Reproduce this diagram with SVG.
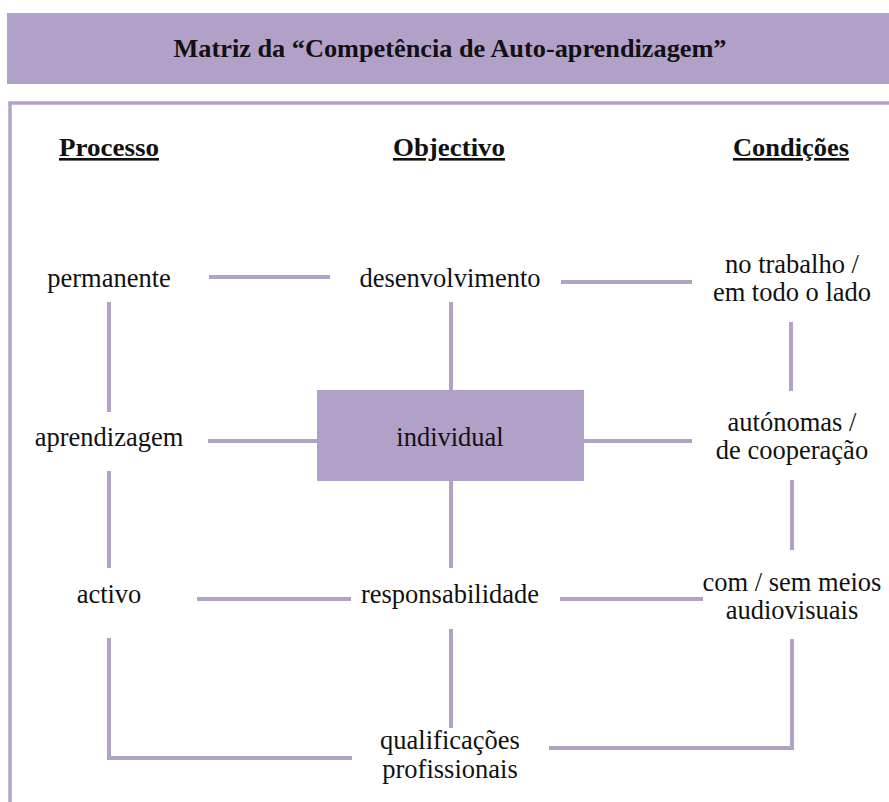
<svg xmlns="http://www.w3.org/2000/svg" width="889" height="802" viewBox="0 0 889 802">
<style>
.lbl{font-family:"Liberation Serif","Times New Roman",serif;font-size:26.5px;fill:#111;text-anchor:middle}
.hdr{font-family:"Liberation Serif","Times New Roman",serif;font-size:26px;font-weight:bold;fill:#111;text-anchor:middle;text-decoration:underline}
.ttl{font-family:"Liberation Serif","Times New Roman",serif;font-size:25px;font-weight:bold;fill:#111;text-anchor:middle}
.ln{stroke:#b3a2c8;stroke-width:4;fill:none}
</style>
<rect x="0" y="0" width="889" height="802" fill="#fff"/>
<g id="title">
<rect x="7" y="13" width="885" height="71" fill="#b1a0c7"/>
<text class="ttl" x="450" y="57" textLength="553" lengthAdjust="spacingAndGlyphs">Matriz da “Competência de Auto-aprendizagem”</text>
</g>
<rect id="frame" x="10" y="103" width="900" height="720" fill="#fff" stroke="#b3a2c8" stroke-width="3.5"/>
<g id="headers">
<text class="hdr" x="109" y="156" textLength="100" lengthAdjust="spacingAndGlyphs">Processo</text>
<text class="hdr" x="449" y="156" textLength="112" lengthAdjust="spacingAndGlyphs">Objectivo</text>
<text class="hdr" x="791" y="156" textLength="116" lengthAdjust="spacingAndGlyphs">Condições</text>
</g>
<g id="connectors">
<path class="ln" d="M209,277 H330"/>
<path class="ln" d="M561,282 H692"/>
<path class="ln" d="M109,302 V412"/>
<path class="ln" d="M451,302 V390"/>
<path class="ln" d="M791,322 V391"/>
<path class="ln" d="M208,441 H317"/>
<path class="ln" d="M584,441 H692"/>
<path class="ln" d="M109,471 V568"/>
<path class="ln" d="M451,481 V568"/>
<path class="ln" d="M792,480 V550"/>
<path class="ln" d="M197,599 H351"/>
<path class="ln" d="M560,599 H703"/>
<path class="ln" d="M451,629 V728"/>
<path class="ln" d="M109,638 V758 H352"/>
<path class="ln" d="M792,639 V748 H549"/>
</g>
<g id="permanente"><text class="lbl" x="109" y="287">permanente</text></g>
<g id="desenvolvimento"><text class="lbl" x="450" y="287">desenvolvimento</text></g>
<g id="no-trabalho"><text class="lbl" x="792" y="273">no trabalho /</text><text class="lbl" x="792" y="301">em todo o lado</text></g>
<g id="aprendizagem"><text class="lbl" x="109" y="446">aprendizagem</text></g>
<g id="individual"><rect x="317" y="390" width="267" height="91" fill="#b1a0c7"/><text class="lbl" x="450" y="446">individual</text></g>
<g id="autonomas"><text class="lbl" x="792" y="431">autónomas /</text><text class="lbl" x="792" y="459">de cooperação</text></g>
<g id="activo"><text class="lbl" x="109" y="603">activo</text></g>
<g id="responsabilidade"><text class="lbl" x="450" y="603">responsabilidade</text></g>
<g id="com-sem"><text class="lbl" x="792" y="591">com / sem meios</text><text class="lbl" x="792" y="619">audiovisuais</text></g>
<g id="qualificacoes"><text class="lbl" x="450" y="749">qualificações</text><text class="lbl" x="450" y="778">profissionais</text></g>
</svg>
